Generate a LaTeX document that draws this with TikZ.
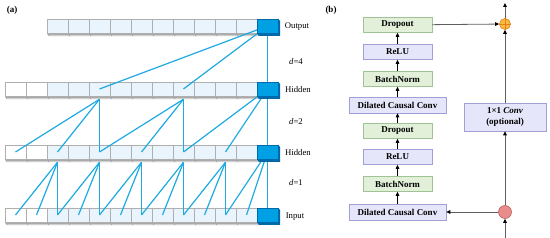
\documentclass[tikz,border=0pt]{standalone}
\usepackage{fontspec}
\setmainfont{Liberation Serif}
\usetikzlibrary{arrows.meta}
\definecolor{cellfill}{RGB}{234,244,252}
\definecolor{cellborder}{RGB}{175,175,175}
\definecolor{shade}{RGB}{205,205,205}
\definecolor{bluecell}{RGB}{0,160,228}
\definecolor{bluedark}{RGB}{0,105,170}
\definecolor{lineblue}{RGB}{30,170,225}
\definecolor{gfill}{RGB}{226,240,218}
\definecolor{gborder}{RGB}{160,195,150}
\definecolor{pfill}{RGB}{230,230,250}
\definecolor{pborder}{RGB}{160,160,215}
\definecolor{linegray}{RGB}{95,95,95}
\definecolor{plusfill}{RGB}{250,185,70}
\definecolor{plusborder}{RGB}{225,130,20}
\definecolor{splitfill}{RGB}{232,140,140}
\definecolor{splitborder}{RGB}{185,95,95}
\pgfdeclarelayer{cells}
\pgfdeclarelayer{links}
\pgfsetlayers{cells,links,main}
\tikzset{
  cell/.style={draw=cellborder, line width=0.5pt, minimum width=21pt, minimum height=14pt, inner sep=0pt},
  conn/.style={draw=lineblue, line width=1.2pt},
  lbl/.style={font=\fontsize{8.7}{10}\selectfont},
  boxbase/.style={draw, line width=0.6pt, minimum width=69pt, minimum height=15pt, inner sep=0pt, font=\bfseries\fontsize{9}{10.5}\selectfont},
  gbox/.style={boxbase, draw=gborder, fill=gfill},
  pbox/.style={boxbase, draw=pborder, fill=pfill},
  arr/.style={draw=black, line width=0.6pt, -{Triangle[length=4pt,width=3.6pt]}},
  garr/.style={draw=linegray, line width=0.8pt, -{Triangle[length=4pt,width=3.6pt,black]}}
}
\begin{document}
\begin{tikzpicture}[x=1pt,y=-1pt]
\useasboundingbox (0,0) rectangle (550,238);
% labels (a) (b)
\node[font=\bfseries\fontsize{9}{10}\selectfont] (la) at (12,10) {(a)};
\node[font=\bfseries\fontsize{9}{10}\selectfont] (lb) at (331,10) {(b)};
% cells
\begin{pgfonlayer}{cells}
\foreach \r/\yy/\first in {o/26/2, h/89/0, g/152/0, i/215/0} {
  \foreach \i in {\first,...,11} {
    \fill[shade, draw=cellborder, line width=0.4pt] (5+21*\i, \yy+7) -- (7+21*\i, \yy+10) -- (28+21*\i, \yy+10) -- (26+21*\i, \yy+7) -- cycle;
  }
}
\foreach \r/\yy in {h/89, g/152, i/215} {
  \foreach \i in {0,1} {
    \node[cell, fill=white] (\r\i) at (15.5+21*\i, \yy) {};
  }
}
\foreach \r/\yy/\first in {o/26/2, h/89/2, g/152/2, i/215/2} {
  \foreach \i in {\first,...,11} {
    \node[cell, fill=cellfill] (\r\i) at (15.5+21*\i, \yy) {};
  }
}
\end{pgfonlayer}
% blue cells
\foreach \r/\yy in {o/26, h/89, g/152, i/215} {
  \fill[bluedark] (257, \yy+7) -- (259, \yy+10) -- (280, \yy+10) -- (280, \yy-5) -- (278,\yy-7) -- (278,\yy+7) -- cycle;
  \node[draw=bluedark, line width=0.5pt, fill=bluecell, minimum width=21pt, minimum height=14pt, inner sep=0pt] (\r12) at (267.5, \yy) {};
}
% connections
\begin{pgfonlayer}{links}
\foreach \t in {4,8,12} { \draw[conn] (o12.center) -- (h\t.center); }
\foreach \s in {4,8} {
  \foreach \d in {0,2,4} {
    \pgfmathtruncatemacro{\t}{\s-\d}
    \draw[conn] ([yshift=-3pt]h\s.south) -- (g\t.center);
  }
}
\foreach \d in {0,2,4} {
  \pgfmathtruncatemacro{\t}{12-\d}
  \draw[conn] (h12.center) -- (g\t.center);
}
\foreach \s in {2,4,6,8,10} {
  \foreach \d in {0,1,2} {
    \pgfmathtruncatemacro{\t}{\s-\d}
    \draw[conn] ([yshift=-3pt]g\s.south) -- (i\t.center);
  }
}
\foreach \d in {0,1,2} {
  \pgfmathtruncatemacro{\t}{12-\d}
  \draw[conn] (g12.center) -- (i\t.center);
}
\end{pgfonlayer}
% row labels
\node[lbl] (tout) at (297,27) {Output};
\node[lbl] (td4) at (296,62) {\textit{d}=4};
\node[lbl] (th1) at (298,90) {Hidden};
\node[lbl] (td2) at (296,122) {\textit{d}=2};
\node[lbl] (th2) at (298,153) {Hidden};
\node[lbl] (td1) at (296,183) {\textit{d}=1};
\node[lbl] (tin) at (295,217) {Input};
% panel (b)
\node[gbox] (drop2) at (397.5,25) {Dropout};
\node[pbox] (relu2) at (397.5,52) {ReLU};
\node[gbox] (bn2) at (397.5,79) {BatchNorm};
\node[pbox, minimum width=97pt, minimum height=16pt] (dcc2) at (397.5,105) {Dilated Causal Conv};
\node[gbox] (drop1) at (397.5,131) {Dropout};
\node[pbox] (relu1) at (397.5,157) {ReLU};
\node[gbox] (bn1) at (397.5,184) {BatchNorm};
\node[pbox, minimum width=97pt, minimum height=16pt] (dcc1) at (397.5,212) {Dilated Causal Conv};
\node[pbox, minimum width=82pt, minimum height=28pt, align=center, font=\bfseries\fontsize{9}{11}\selectfont] (conv) at (505,117) {1×1 \textit{Conv}\\(optional)};
\draw[arr] (dcc1) -- (bn1);
\draw[arr] (bn1) -- (relu1);
\draw[arr] (relu1) -- (drop1);
\draw[arr] (drop1) -- (dcc2);
\draw[arr] (dcc2) -- (bn2);
\draw[arr] (bn2) -- (relu2);
\draw[arr] (relu2) -- (drop2);
\node[circle, draw=plusborder, fill=plusfill, line width=0.6pt, minimum size=11pt, inner sep=0pt] (plus) at (505,24) {};
\draw[plusborder, line width=0.5pt] (plus.north) -- (plus.south) (plus.west) -- (plus.east);
\node[circle, draw=splitborder, fill=splitfill, line width=0.6pt, minimum size=13pt, inner sep=0pt] (split) at (505,212) {};
\coordinate (top) at (505,3);
\coordinate (bot) at (505,238);
\draw[garr] (plus) -- (top);
\draw[garr] (bot) -- (split);
\draw[garr] (split) -- (dcc1);
\draw[garr] (split) -- (conv);
\draw[garr] (conv) -- (plus);
\draw[garr] (drop2) -- (plus);
\end{tikzpicture}
\end{document}
